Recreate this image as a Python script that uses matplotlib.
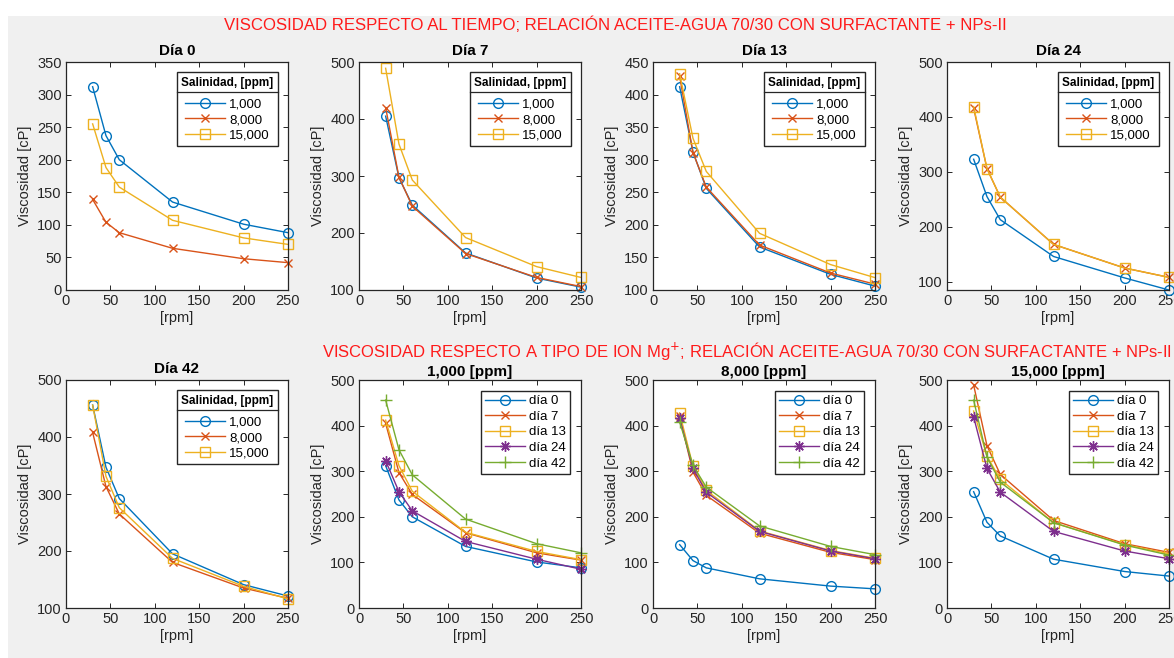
import matplotlib
matplotlib.use("Agg")
import matplotlib.pyplot as plt
from matplotlib.patches import Rectangle
from matplotlib.lines import Line2D

plt.rcParams['font.family'] = ['Liberation Sans', 'DejaVu Sans']

# ---------------- data ----------------
rpm = [30, 45, 60, 120, 200, 250]
salinidades = ['1,000', '8,000', '15,000']
dias = ['0', '7', '13', '24', '42']

# viscosity [cP] per salinity; rows = días 0, 7, 13, 24, 42
visc_1000 = [
    [312, 237, 200, 135, 101, 88],
    [405, 297, 249, 165, 121, 105],
    [412, 312, 256, 166, 124, 106],
    [323, 255, 213, 146, 107, 85],
    [456, 347, 292, 195, 141, 121],
]
visc_8000 = [
    [139, 104, 88, 64, 48, 42],
    [420, 298, 247, 164, 122, 106],
    [428, 311, 258, 169, 126, 109],
    [416, 306, 254, 168, 125, 108],
    [408, 313, 265, 180, 135, 117],
]
visc_15000 = [
    [255, 188, 158, 107, 80, 70],
    [489, 356, 293, 192, 141, 122],
    [432, 333, 282, 187, 139, 119],
    [419, 306, 254, 168, 125, 108],
    [456, 331, 276, 187, 138, 116],
]
top_ylims = [(0, 350), (100, 500), (100, 450), (85, 500), (100, 500)]
top_yticks = [list(range(0, 351, 50)), list(range(100, 501, 100)),
              list(range(100, 451, 50)), list(range(100, 501, 100)),
              list(range(100, 501, 100))]

colors = ['#0072BD', '#D95319', '#EDB120', '#7E2F8E', '#77AC30']
markers = ['o', 'x', 's', (8, 2, 0), '+']
msizes = [7, 6, 6.5, 7.5, 8]

title1 = 'VISCOSIDAD RESPECTO AL TIEMPO; RELACIÓN ACEITE-AGUA 70/30 CON SURFACTANTE + NPs-II'
title2 = 'VISCOSIDAD RESPECTO A TIPO DE ION Mg$^{+}$; RELACIÓN ACEITE-AGUA 70/30 CON SURFACTANTE + NPs-II'

# ---------------- figure ----------------
W, H = 1174, 658
fig = plt.figure(figsize=(W / 100, H / 100), dpi=100)
fig.patch.set_facecolor('white')
fig.patches.append(Rectangle((8 / W, 0), 1, 1 - 16 / H, transform=fig.transFigure,
                             facecolor='#f0f0f0', edgecolor='none', zorder=-10))

dark = '#262626'
lefts = [66, 359, 653, 947]
aw, ah = 222, 228
tops = [62, 380]


def make_ax(col, row):
    l = lefts[col]
    t = tops[row]
    ax = fig.add_axes([l / W, 1 - (t + ah) / H, aw / W, ah / H])
    ax.set_facecolor('white')
    for s in ax.spines.values():
        s.set_color(dark)
        s.set_linewidth(0.9)
    ax.tick_params(direction='in', top=True, right=True, length=3.5, width=0.7,
                   colors=dark, labelsize=10.5, pad=3)
    ax.set_xlim(0, 250)
    ax.set_xticks([0, 50, 100, 150, 200, 250])
    ax.set_xlabel('[rpm]', fontsize=10.5, color=dark, labelpad=2)
    ax.set_ylabel('Viscosidad [cP]', fontsize=10.5, color=dark, labelpad=4)
    return ax


def plot_series(ax, y, i, label):
    ax.plot(rpm, y, color=colors[i], marker=markers[i], markersize=msizes[i],
            markerfacecolor='none', markeredgewidth=1.0, linewidth=1.0,
            label=label, clip_on=False)


legends = []
# top row + first of bottom row: by day
day_positions = [(0, 0), (1, 0), (2, 0), (3, 0), (0, 1)]
all_sets = [visc_1000, visc_8000, visc_15000]
for d, (col, row) in enumerate(day_positions):
    ax = make_ax(col, row)
    for s, data in enumerate(all_sets):
        plot_series(ax, data[d], s, salinidades[s])
    ax.set_ylim(*top_ylims[d])
    ax.set_yticks(top_yticks[d])
    ax.set_title('Día ' + dias[d], fontsize=11, fontweight='bold', color='black', pad=5)
    leg = ax.legend(title='Salinidad, [ppm]', loc='upper right', fontsize=9.5,
                    title_fontproperties={'weight': 'bold', 'size': 8.5},
                    fancybox=False, framealpha=1, edgecolor=dark,
                    handlelength=3.0, borderaxespad=0.75, labelspacing=0.25,
                    borderpad=0.35, handletextpad=0.3)
    leg.get_frame().set_linewidth(1.0)
    leg._legend_box.sep = 7
    legends.append(leg)

# bottom row: by salinity
for s, data in enumerate(all_sets):
    ax = make_ax(s + 1, 1)
    for d in range(len(dias)):
        plot_series(ax, data[d], d, 'día ' + dias[d])
    ax.set_ylim(0, 500)
    ax.set_yticks(list(range(0, 501, 100)))
    ax.set_title(salinidades[s] + ' [ppm]', fontsize=11, fontweight='bold', color='black', pad=3)
    leg = ax.legend(loc='upper right', fontsize=9.5, fancybox=False, framealpha=1,
                    edgecolor=dark, handlelength=3.0, borderaxespad=0.8,
                    labelspacing=0.25, borderpad=0.35, handletextpad=0.3)
    leg.get_frame().set_linewidth(1.0)

fig.text(615 / W, 1 - 25 / H, title1, color='#ff1a1a', fontsize=12.1,
         ha='center', va='center')
fig.text(322 / W, 1 - 351 / H, title2, color='#ff1a1a', fontsize=12,
         ha='left', va='center')

# separator line under legend titles (MATLAB style)
fig.canvas.draw()
inv = fig.transFigure.inverted()
for leg in legends:
    fb = leg.get_frame().get_window_extent()
    tb = leg.get_title().get_window_extent()
    ysep = tb.y0 - 3
    (x0, y0) = inv.transform((fb.x0, ysep))
    (x1, _) = inv.transform((fb.x1, ysep))
    fig.add_artist(Line2D([x0, x1], [y0, y0], transform=fig.transFigure,
                          color=dark, linewidth=0.9, zorder=10))

fig.savefig('out.png', dpi=100, facecolor=fig.get_facecolor())
